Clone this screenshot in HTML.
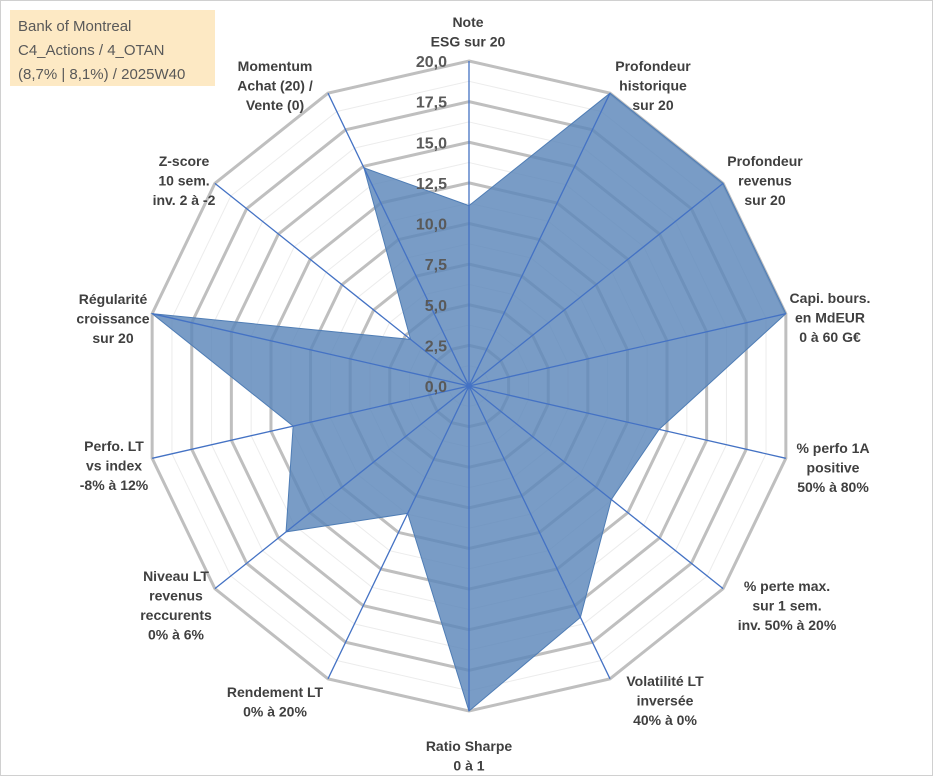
<!DOCTYPE html>
<html><head><meta charset="utf-8"><style>
body{margin:0;background:#fff;}
svg text{font-family:"Liberation Sans",sans-serif;}
</style></head><body>
<svg id="c" width="933" height="776">
<rect x="0.5" y="0.5" width="932" height="775" fill="#fff" stroke="#d0d0d0"/>
<g id="grid"></g><g id="series"></g><g id="axes"></g><g id="ticks"></g><g id="labels"></g>
<rect x="10" y="10" width="205" height="76" fill="#fde9c4"/>
<text x="18" y="31" font-size="15" fill="#595959">Bank of Montreal</text>
<text x="18" y="55" font-size="15" fill="#595959">C4_Actions / 4_OTAN</text>
<text x="18" y="79" font-size="15" fill="#595959">(8,7% | 8,1%) / 2025W40</text>
</svg>
<script>
const categories=[["Note","ESG sur 20"],["Profondeur","historique","sur 20"],["Profondeur","revenus","sur 20"],["Capi. bours.","en MdEUR","0 à 60 G€"],["% perfo 1A","positive","50% à 80%"],["% perte max.","sur 1 sem.","inv. 50% à 20%"],["Volatilité LT","inversée","40% à 0%"],["Ratio Sharpe","0 à 1"],["Rendement LT","0% à 20%"],["Niveau LT","revenus","reccurents","0% à 6%"],["Perfo. LT","vs index","-8% à 12%"],["Régularité","croissance","sur 20"],["Z-score","10 sem.","inv. 2 à -2"],["Momentum","Achat (20) /","Vente (0)"]];
const values=[11.1,20,20,20,12,11.2,15.8,20,8.7,14.4,11.1,20,4.6,14.9];
const tickLabels=["0,0","2,5","5,0","7,5","10,0","12,5","15,0","17,5","20,0"];
const labelPos=[[468,14],[653,58],[765,153],[830,290],[833,440],[787,578],[665,673],[469,738],[275,684],[176,568],[114,438],[113,291],[184,153],[275,58]];
const cx=469,cy=386,R=325,maxV=20,N=categories.length;
const NS="http://www.w3.org/2000/svg";
function pt(i,v){const a=2*Math.PI*i/N;const r=v/maxV*R;return [cx+r*Math.sin(a),cy-r*Math.cos(a)];}
function mk(t,at,parent){const e=document.createElementNS(NS,t);for(const k in at)e.setAttribute(k,at[k]);parent.appendChild(e);return e;}
const G=document.getElementById('grid');
for(let s=1;s<=16;s++){const v=s*1.25;const major=s%2==0;
 const p=[];for(let i=0;i<N;i++)p.push(pt(i,v).join(','));
 const e=mk('polygon',{points:p.join(' '),fill:'none',stroke:major?'#bfbfbf':'#ececec','stroke-width':major?3:1},G);
 
 }
const S=document.getElementById('series');
const sp=values.map((v,i)=>pt(i,v).join(',')).join(' ');
const poly=mk('polygon',{points:sp,fill:'#5b86ba','fill-opacity':'0.82',stroke:'#4f7db5','stroke-width':1},S);


const A=document.getElementById('axes');
for(let i=0;i<N;i++){const [x,y]=pt(i,maxV);
 const l=mk('line',{x1:cx,y1:cy,x2:x,y2:y,stroke:'#4472c4','stroke-width':1.3},A);
 
 }
const T=document.getElementById('ticks');
tickLabels.forEach((t,k)=>{const y=cy-(k*2.5)/maxV*R;
 const e=mk('text',{x:447,y:y+6,'text-anchor':'end','font-size':16,'font-weight':'bold',fill:'#595959'},T);
 e.textContent=t;
 
 });
const L=document.getElementById('labels');
categories.forEach((lines,i)=>{const [x,y]=labelPos[i];
 const e=mk('text',{'text-anchor':'middle','font-size':14,'font-weight':'bold',fill:'#404040'},L);
 
 
 lines.forEach((ln,j)=>{const ts=mk('tspan',{x:x,y:y+13+j*19.5},e);ts.textContent=ln;});});
</script>
</body></html>
